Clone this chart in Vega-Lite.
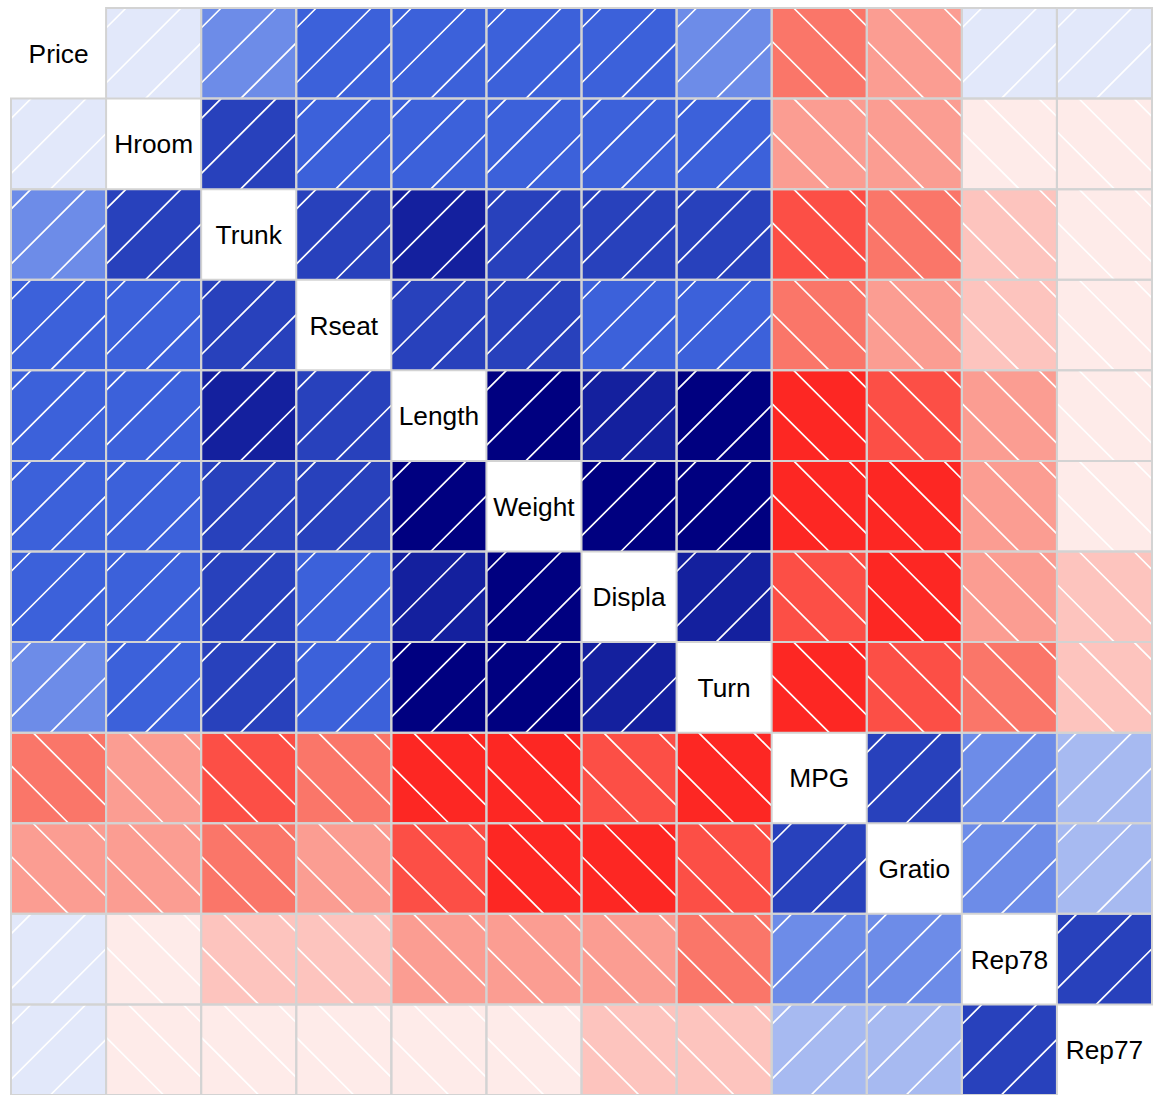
{
  "$schema": "https://vega.github.io/schema/vega-lite/v6.json",
  "width": 1141,
  "height": 1087,
  "padding": {"left": 11, "top": 8, "right": 1, "bottom": 0},
  "autosize": {"type": "none"},
  "background": "white",
  "config": {"view": {"stroke": null}},
  "datasets": {
    "cells": [
      {"a":"Price","b":"Hroom","r":0.11},{"a":"Price","b":"Trunk","r":0.32},{"a":"Price","b":"Rseat","r":0.44},{"a":"Price","b":"Length","r":0.44},{"a":"Price","b":"Weight","r":0.54},{"a":"Price","b":"Displa","r":0.49},{"a":"Price","b":"Turn","r":0.31},{"a":"Price","b":"MPG","r":-0.47},{"a":"Price","b":"Gratio","r":-0.31},{"a":"Price","b":"Rep78","r":0.01},{"a":"Price","b":"Rep77","r":0.06},
      {"a":"Hroom","b":"Price","r":0.11},{"a":"Hroom","b":"Trunk","r":0.66},{"a":"Hroom","b":"Rseat","r":0.52},{"a":"Hroom","b":"Length","r":0.52},{"a":"Hroom","b":"Weight","r":0.48},{"a":"Hroom","b":"Displa","r":0.47},{"a":"Hroom","b":"Turn","r":0.44},{"a":"Hroom","b":"MPG","r":-0.41},{"a":"Hroom","b":"Gratio","r":-0.38},{"a":"Hroom","b":"Rep78","r":-0.12},{"a":"Hroom","b":"Rep77","r":-0.10},
      {"a":"Trunk","b":"Price","r":0.32},{"a":"Trunk","b":"Hroom","r":0.66},{"a":"Trunk","b":"Rseat","r":0.65},{"a":"Trunk","b":"Length","r":0.73},{"a":"Trunk","b":"Weight","r":0.67},{"a":"Trunk","b":"Displa","r":0.64},{"a":"Trunk","b":"Turn","r":0.61},{"a":"Trunk","b":"MPG","r":-0.58},{"a":"Trunk","b":"Gratio","r":-0.51},{"a":"Trunk","b":"Rep78","r":-0.17},{"a":"Trunk","b":"Rep77","r":-0.08},
      {"a":"Rseat","b":"Price","r":0.44},{"a":"Rseat","b":"Hroom","r":0.52},{"a":"Rseat","b":"Trunk","r":0.65},{"a":"Rseat","b":"Length","r":0.67},{"a":"Rseat","b":"Weight","r":0.62},{"a":"Rseat","b":"Displa","r":0.55},{"a":"Rseat","b":"Turn","r":0.53},{"a":"Rseat","b":"MPG","r":-0.48},{"a":"Rseat","b":"Gratio","r":-0.35},{"a":"Rseat","b":"Rep78","r":-0.18},{"a":"Rseat","b":"Rep77","r":-0.07},
      {"a":"Length","b":"Price","r":0.44},{"a":"Length","b":"Hroom","r":0.52},{"a":"Length","b":"Trunk","r":0.73},{"a":"Length","b":"Rseat","r":0.67},{"a":"Length","b":"Weight","r":0.95},{"a":"Length","b":"Displa","r":0.84},{"a":"Length","b":"Turn","r":0.87},{"a":"Length","b":"MPG","r":-0.80},{"a":"Length","b":"Gratio","r":-0.70},{"a":"Length","b":"Rep78","r":-0.33},{"a":"Length","b":"Rep77","r":-0.10},
      {"a":"Weight","b":"Price","r":0.54},{"a":"Weight","b":"Hroom","r":0.48},{"a":"Weight","b":"Trunk","r":0.67},{"a":"Weight","b":"Rseat","r":0.62},{"a":"Weight","b":"Length","r":0.95},{"a":"Weight","b":"Displa","r":0.89},{"a":"Weight","b":"Turn","r":0.87},{"a":"Weight","b":"MPG","r":-0.81},{"a":"Weight","b":"Gratio","r":-0.76},{"a":"Weight","b":"Rep78","r":-0.36},{"a":"Weight","b":"Rep77","r":-0.09},
      {"a":"Displa","b":"Price","r":0.49},{"a":"Displa","b":"Hroom","r":0.47},{"a":"Displa","b":"Trunk","r":0.64},{"a":"Displa","b":"Rseat","r":0.55},{"a":"Displa","b":"Length","r":0.84},{"a":"Displa","b":"Weight","r":0.89},{"a":"Displa","b":"Turn","r":0.78},{"a":"Displa","b":"MPG","r":-0.70},{"a":"Displa","b":"Gratio","r":-0.83},{"a":"Displa","b":"Rep78","r":-0.39},{"a":"Displa","b":"Rep77","r":-0.25},
      {"a":"Turn","b":"Price","r":0.31},{"a":"Turn","b":"Hroom","r":0.44},{"a":"Turn","b":"Trunk","r":0.61},{"a":"Turn","b":"Rseat","r":0.53},{"a":"Turn","b":"Length","r":0.87},{"a":"Turn","b":"Weight","r":0.87},{"a":"Turn","b":"Displa","r":0.78},{"a":"Turn","b":"MPG","r":-0.73},{"a":"Turn","b":"Gratio","r":-0.68},{"a":"Turn","b":"Rep78","r":-0.47},{"a":"Turn","b":"Rep77","r":-0.26},
      {"a":"MPG","b":"Price","r":-0.47},{"a":"MPG","b":"Hroom","r":-0.41},{"a":"MPG","b":"Trunk","r":-0.58},{"a":"MPG","b":"Rseat","r":-0.48},{"a":"MPG","b":"Length","r":-0.80},{"a":"MPG","b":"Weight","r":-0.81},{"a":"MPG","b":"Displa","r":-0.70},{"a":"MPG","b":"Turn","r":-0.73},{"a":"MPG","b":"Gratio","r":0.62},{"a":"MPG","b":"Rep78","r":0.38},{"a":"MPG","b":"Rep77","r":0.24},
      {"a":"Gratio","b":"Price","r":-0.31},{"a":"Gratio","b":"Hroom","r":-0.38},{"a":"Gratio","b":"Trunk","r":-0.51},{"a":"Gratio","b":"Rseat","r":-0.35},{"a":"Gratio","b":"Length","r":-0.70},{"a":"Gratio","b":"Weight","r":-0.76},{"a":"Gratio","b":"Displa","r":-0.83},{"a":"Gratio","b":"Turn","r":-0.68},{"a":"Gratio","b":"MPG","r":0.62},{"a":"Gratio","b":"Rep78","r":0.40},{"a":"Gratio","b":"Rep77","r":0.27},
      {"a":"Rep78","b":"Price","r":0.01},{"a":"Rep78","b":"Hroom","r":-0.12},{"a":"Rep78","b":"Trunk","r":-0.17},{"a":"Rep78","b":"Rseat","r":-0.18},{"a":"Rep78","b":"Length","r":-0.33},{"a":"Rep78","b":"Weight","r":-0.36},{"a":"Rep78","b":"Displa","r":-0.39},{"a":"Rep78","b":"Turn","r":-0.47},{"a":"Rep78","b":"MPG","r":0.38},{"a":"Rep78","b":"Gratio","r":0.40},{"a":"Rep78","b":"Rep77","r":0.68},
      {"a":"Rep77","b":"Price","r":0.06},{"a":"Rep77","b":"Hroom","r":-0.10},{"a":"Rep77","b":"Trunk","r":-0.08},{"a":"Rep77","b":"Rseat","r":-0.07},{"a":"Rep77","b":"Length","r":-0.10},{"a":"Rep77","b":"Weight","r":-0.09},{"a":"Rep77","b":"Displa","r":-0.25},{"a":"Rep77","b":"Turn","r":-0.26},{"a":"Rep77","b":"MPG","r":0.24},{"a":"Rep77","b":"Gratio","r":0.27},{"a":"Rep77","b":"Rep78","r":0.68}
    ],
    "labels": [
      {"a":"Price","b":"Price"},{"a":"Hroom","b":"Hroom"},{"a":"Trunk","b":"Trunk"},{"a":"Rseat","b":"Rseat"},{"a":"Length","b":"Length"},{"a":"Weight","b":"Weight"},{"a":"Displa","b":"Displa"},{"a":"Turn","b":"Turn"},{"a":"MPG","b":"MPG"},{"a":"Gratio","b":"Gratio"},{"a":"Rep78","b":"Rep78"},{"a":"Rep77","b":"Rep77"}
    ]
  },
  "encoding": {
    "x": {"field": "b", "type": "nominal", "axis": null,
          "scale": {"domain": ["Price","Hroom","Trunk","Rseat","Length","Weight","Displa","Turn","MPG","Gratio","Rep78","Rep77"], "paddingInner": 0, "paddingOuter": 0}},
    "y": {"field": "a", "type": "nominal", "axis": null,
          "scale": {"domain": ["Price","Hroom","Trunk","Rseat","Length","Weight","Displa","Turn","MPG","Gratio","Rep78","Rep77"], "paddingInner": 0, "paddingOuter": 0}}
  },
  "layer": [
    {
      "data": {"name": "cells"},
      "mark": {"type": "rect", "strokeWidth": 0},
      "encoding": {
        "color": {"field": "r", "type": "quantitative", "legend": null,
                  "scale": {"type": "threshold",
                            "domain": [-0.857143, -0.714286, -0.571429, -0.428571, -0.285714, -0.142857, 0, 0.142857, 0.285714, 0.428571, 0.571429, 0.714286, 0.857143],
                            "range": ["#FF0000", "#FD2723", "#FC4F46", "#FA7669", "#FB9D92", "#FDC4BE", "#FEEBE9", "#E2E8FA", "#A7BAF1", "#6D8CE8", "#3C61DA", "#2841BC", "#14209E", "#000080"]}}
      }
    },
    {
      "data": {"name": "cells"},
      "transform": [{"filter": "datum.r > 0"}],
      "mark": {"type": "point", "filled": false, "stroke": "white", "strokeWidth": 1.7, "opacity": 1, "size": 9040,
               "shape": "M-0.579,-0.953L-1,-0.532M0.578,-0.953L-1,0.625M1,-0.218L-0.171,0.953"}
    },
    {
      "data": {"name": "cells"},
      "transform": [{"filter": "datum.r < 0"}],
      "mark": {"type": "point", "filled": false, "stroke": "white", "strokeWidth": 1.7, "opacity": 1, "size": 9040,
               "shape": "M-0.537,-0.953L1,0.584M0.62,-0.953L1,-0.572M-1,-0.259L0.211,0.953"}
    },
    {
      "data": {"name": "cells"},
      "mark": {"type": "rect", "fill": null, "fillOpacity": 0, "stroke": "#D3D3D3", "strokeWidth": 2}
    },
    {
      "data": {"name": "labels"},
      "mark": {"type": "text", "font": "Liberation Sans", "fontSize": 26.3, "dy": 1.5, "color": "black", "align": "center", "baseline": "middle"},
      "encoding": {"text": {"field": "a"}}
    }
  ]
}
